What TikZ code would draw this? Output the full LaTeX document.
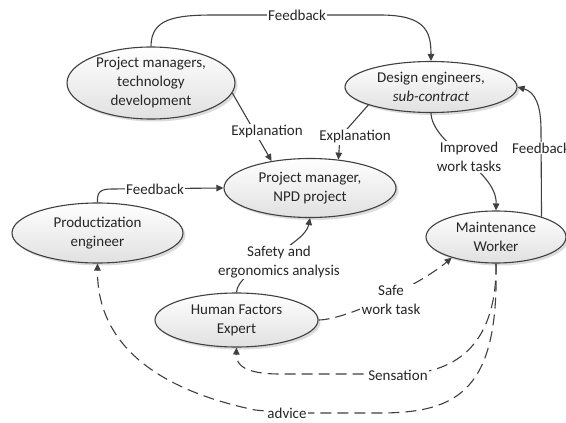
\documentclass[tikz,border=0pt]{standalone}
\usepackage{fontspec}
\setmainfont{Carlito}
\usetikzlibrary{shapes.geometric,arrows.meta,shadows}
\definecolor{ln}{HTML}{404040}
\definecolor{tx}{HTML}{262626}
\tikzset{
  ell/.style={ellipse, draw=ln, line width=1.1pt, inner sep=0pt, align=center,
    top color=white, bottom color=black!12, text=tx,
    drop shadow={shadow xshift=2.5pt, shadow yshift=-2.5pt, fill=black!30, opacity=0.45},
    font=\fontsize{15}{19}\selectfont},
  conn/.style={draw=ln, line width=1.1pt, -{Triangle[length=7pt,width=6.5pt]}},
  dconn/.style={conn, dash pattern=on 11pt off 6pt},
  lab/.style={fill=white, inner sep=1.2pt, align=center, text=tx,
    font=\fontsize{15}{19}\selectfont},
}
\begin{document}
\begin{tikzpicture}[x=1pt,y=-1pt]
\useasboundingbox[fill=white] (0,0) rectangle (566,423);

% ellipses
\node[ell, minimum width=168pt, minimum height=72pt] (pm1) at (151,83) {Project managers,\\technology\\development};
\node[ell, minimum width=172pt, minimum height=51pt] (de) at (431,87) {Design engineers,\\\textit{sub-contract}};
\node[ell, minimum width=172pt, minimum height=59pt] (npd) at (310,188) {Project manager,\\NPD project};
\node[ell, minimum width=171pt, minimum height=60pt] (pe) at (97.5,233) {Productization\\engineer};
\node[ell, minimum width=163pt, minimum height=54pt] (hf) at (236.5,320) {Human Factors\\Expert};
\node[ell, minimum width=140pt, minimum height=52pt] (mw) at (496,237) {Maintenance\\Worker};

% connectors
\draw[conn] (pm1.north) .. controls +(0,-28) and +(-40,0) .. (215,15) -- (380,15)
  .. controls +(45,0) and +(0,-30) .. (de.north);
\draw[conn] (pm1.-7) -- (npd.145);
\draw[conn] (de.196) -- (340,137) -- (npd.45);
\draw[conn] (de.south) .. controls (432,145) and (497,170) .. (mw.north);
\draw[conn] (mw.24) -- (541,130) .. controls (541,105) and (535,92) .. (de.east);
\draw[conn] (pe.north) .. controls (97,192) and (100,189) .. (112,189) -- (npd.west);
\draw[conn] (hf.north) .. controls (237,270) and (305,245) .. (npd.south);
\draw[dconn] (hf.east) .. controls (345,320) and (420,285) .. (mw.205);
\draw[dconn] (mw.south) .. controls (497,340) and (460,374) .. (400,374) -- (280,374)
  .. controls (245,374) and (236,365) .. (hf.south);
\draw[dconn] (mw.south) .. controls (499,388) and (460,413) .. (380,413) -- (287,413) -- (255,410)
  .. controls (150,388) and (97,340) .. (pe.south);

% labels
\node[lab] (l1) at (297,15) {Feedback};
\node[lab] (l2) at (267,132) {Explanation};
\node[lab] (l3) at (355,137) {Explanation};
\node[lab] (l4) at (469,157) {Improved\\work tasks};
\node[lab] (l5) at (541,148) {Feedback};
\node[lab] (l6) at (155,189) {Feedback};
\node[lab] (l7) at (279,262) {Safety and\\ergonomics analysis};
\node[lab] (l8) at (391,300) {Safe\\work task};
\node[lab] (l9) at (398,375) {Sensation};
\node[lab] (l10) at (287,413) {advice};
\end{tikzpicture}
\end{document}
